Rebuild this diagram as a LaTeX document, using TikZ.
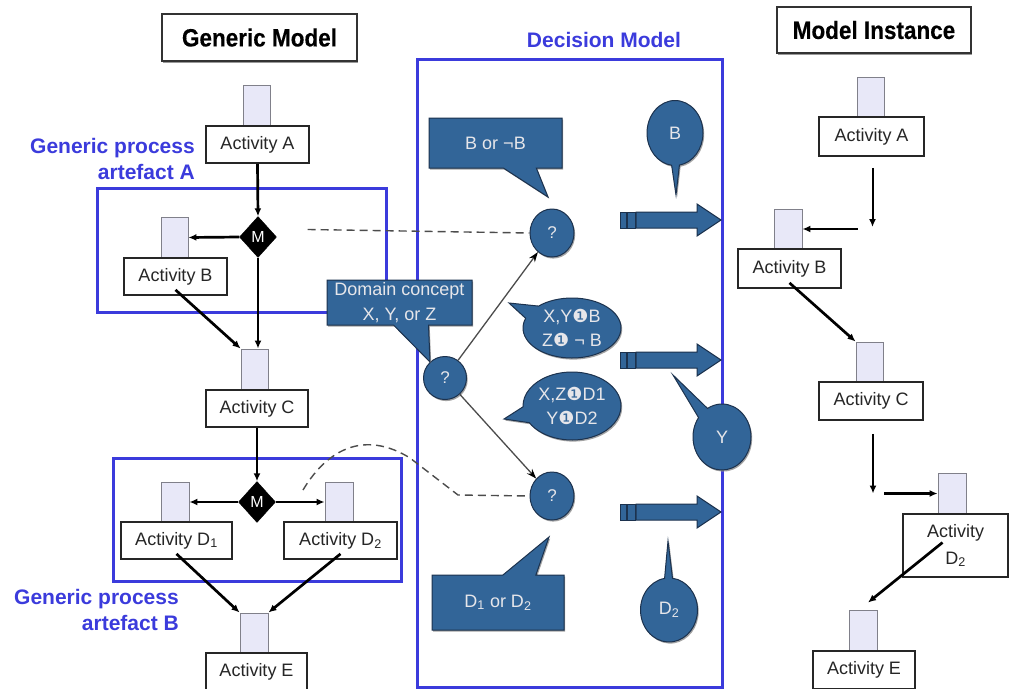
\documentclass[tikz,border=0pt]{standalone}
\usepackage{fontspec}
\setmainfont{Liberation Sans}
\newfontfamily\dingfont{DejaVu Sans}
\newfontfamily\headfont[FakeStretch=0.9,FakeBold=0.3]{Liberation Sans Bold}
\usetikzlibrary{shapes.geometric,shapes.callouts,arrows.meta,shadows}
\definecolor{bubblefill}{RGB}{50,101,152}
\definecolor{bubbleline}{RGB}{28,50,78}
\definecolor{bubbletext}{RGB}{230,230,234}
\definecolor{frameblue}{RGB}{59,59,220}
\definecolor{sqfill}{RGB}{232,232,248}
\definecolor{sqline}{RGB}{128,128,138}
\newcommand{\negone}{{\dingfont ❶}}
\tikzset{
  headbox/.style={draw=black!80, line width=1.6pt, fill=white, inner sep=0pt,
    font=\fontsize{25}{29}\headfont,
    drop shadow={shadow xshift=0.6pt, shadow yshift=-1.6pt, fill=black!50, opacity=0.8}},
  bluelabel/.style={text=frameblue, inner sep=0pt, align=right,
    font=\fontsize{21}{26}\selectfont\bfseries},
  regionframe/.style={draw=frameblue, line width=3pt, inner sep=0pt},
  actsq/.style={draw=sqline, line width=0.9pt, fill=sqfill, inner sep=0pt,
    minimum width=27pt, minimum height=41pt},
  actbox/.style={draw=black!85, line width=1.8pt, fill=white, inner sep=0pt,
    minimum height=37pt, text=black!85, font=\fontsize{18}{21}\selectfont},
  merge/.style={diamond, fill=black, draw=black, inner sep=0pt,
    minimum width=37pt, minimum height=41pt, text=white,
    font=\fontsize{16}{18}\selectfont},
  flow/.style={draw=black, line width=2.7pt, -{Latex[length=8pt,width=7pt]}},
  link/.style={draw=black!70, line width=1.4pt, dash pattern=on 8pt off 5pt},
  feed/.style={draw=black!70, line width=1.3pt, -{Stealth[length=10pt,width=7pt,color=black]}},
  blobshadow/.style={drop shadow={shadow xshift=1.2pt, shadow yshift=-1.6pt, fill=black!45, opacity=0.8}},
  query/.style={ellipse, fill=bubblefill, draw=bubbleline, line width=1pt, inner sep=0pt,
    minimum width=44pt, minimum height=48pt, text=bubbletext,
    font=\fontsize{17}{20}\selectfont, blobshadow},
  note/.style={rectangle callout, fill=bubblefill, draw=bubbleline, line width=1pt,
    inner sep=0pt, text=bubbletext, align=center,
    font=\fontsize{18}{25}\selectfont, blobshadow},
  say/.style={ellipse callout, fill=bubblefill, draw=bubbleline, line width=1pt,
    inner sep=0pt, text=bubbletext, align=center,
    font=\fontsize{18}{24}\selectfont, blobshadow},
  arrowbody/.style={fill=bubblefill, draw=bubbleline, line width=1pt},
  blockarrow/.pic={
    \filldraw[arrowbody] (0,-8) rectangle (6,8);
    \filldraw[arrowbody] (7,-8) rectangle (15,8);
    \filldraw[arrowbody] (16,-8) -- (77,-8) -- (77,-16) -- (101,0)
      -- (77,16) -- (77,8) -- (16,8) -- cycle;
  },
}
\begin{document}
\begin{tikzpicture}[x=1pt,y=-1pt]
\useasboundingbox[fill=white] (0,0) rectangle (1014,688);

% ---------- frames ----------
\node[regionframe, minimum width=289pt, minimum height=124pt] (artA) at (241.5,250) {};
\node[regionframe, minimum width=288pt, minimum height=123pt] (artB) at (257,519.5) {};
\node[regionframe, minimum width=305pt, minimum height=628pt] (dmod) at (569.5,373) {};

% ---------- headings ----------
\node[headbox, minimum width=195pt, minimum height=47pt] (hGM) at (259.5,37.5) {Generic Model};
\node[headbox, minimum width=194pt, minimum height=46pt] (hMI) at (874,30) {Model Instance};
\node[text=frameblue, inner sep=0pt, font=\fontsize{21}{26}\selectfont\bfseries] (hDM) at (604,40) {Decision Model};
\node[bluelabel, anchor=east] (lblA) at (195,158.5) {Generic process\\artefact A};
\node[bluelabel, anchor=east] (lblB) at (179,610) {Generic process\\artefact B};

% ---------- generic model ----------
\node[actsq] (gAsq) at (256.5,105.5) {};
\node[actbox, minimum width=103pt] (gA) at (257.5,144.5) {Activity A};
\node[merge] (dM1) at (258,237) {M};
\node[actsq] (gBsq) at (174.5,237.5) {};
\node[actbox, minimum width=103pt] (gB) at (175.5,276.5) {Activity B};
\node[actsq] (gCsq) at (254.5,369.5) {};
\node[actbox, minimum width=102pt] (gC) at (257,408.5) {Activity C};
\node[merge] (dM2) at (257,502) {M};
\node[actsq, minimum width=28pt, minimum height=40pt] (gD1sq) at (175,502) {};
\node[actbox, minimum width=111pt] (gD1) at (176.5,540.5) {Activity D\textsubscript{1}};
\node[actsq, minimum width=28pt, minimum height=40pt] (gD2sq) at (339,502) {};
\node[actbox, minimum width=113pt] (gD2) at (340.5,540.5) {Activity D\textsubscript{2}};
\node[actsq, minimum width=28pt, minimum height=40pt] (gEsq) at (254,633) {};
\node[actbox, minimum width=101pt] (gE) at (256.5,671.5) {Activity E};

\draw[flow] (gA.south) -- (dM1.north);
\draw[flow] (dM1.west) -- (gBsq.east);
\draw[flow] (dM1.south) -- (dM1.south |- gCsq.north);
\draw[flow] ([yshift=6pt]gB.south) -- (gCsq.north west);
\draw[flow] (gC.south) -- (dM2.north);
\draw[flow] (dM2.west) -- (gD1sq.east);
\draw[flow] (dM2.east) -- (gD2sq.west);
\draw[flow] ([yshift=6pt]gD1.south) -- (gEsq.north west);
\draw[flow] ([yshift=6pt]gD2.south) -- (gEsq.north east);

% ---------- decision model ----------
\node[query] (q1) at (552,233) {?};
\node[query, minimum width=43pt, minimum height=43pt] (q0) at (445,378) {?};
\node[query] (q2) at (552,496) {?};

\coordinate (tipBB) at (548,197);
\node[note, callout absolute pointer={(tipBB)}, callout pointer width=33pt,
  minimum width=133pt, minimum height=50pt] (cBB) at (495.5,143) {B or ¬B};
\coordinate (tipDom) at (430,362);
\node[note, callout absolute pointer={(tipDom)}, callout pointer width=35pt,
  minimum width=145pt, minimum height=45pt] (cDom) at (399.5,302.5) {Domain concept\\X, Y, or Z};
\coordinate (tipDD) at (549,537);
\node[note, callout absolute pointer={(tipDD)}, callout pointer width=33pt,
  minimum width=132pt, minimum height=55pt] (cDD) at (498,602.5) {D\textsubscript{1} or D\textsubscript{2}};

\coordinate (tipE1) at (509,303);
\node[say, callout absolute pointer={(tipE1)}, callout pointer arc=28,
  minimum width=98pt, minimum height=60pt] (e1) at (572,328) {X,Y\negone B\\Z\negone\ ¬ B};
\coordinate (tipE2) at (504,419);
\node[say, callout absolute pointer={(tipE2)}, callout pointer arc=28,
  minimum width=98pt, minimum height=68pt] (e2) at (572,406) {X,Z\negone D1\\Y\negone D2};

\pic at (620,220) {blockarrow};
\pic at (620,360) {blockarrow};
\pic at (620,512) {blockarrow};

\coordinate (tipOB) at (676,195);
\node[say, callout absolute pointer={(tipOB)}, callout pointer arc=16,
  minimum width=56pt, minimum height=65pt] (oB) at (675,133) {B};
\coordinate (tipOY) at (673,375);
\node[say, callout absolute pointer={(tipOY)}, callout pointer arc=24,
  minimum width=58pt, minimum height=66pt] (oY) at (722,437) {Y};
\coordinate (tipOD) at (668,541);
\node[say, callout absolute pointer={(tipOD)}, callout pointer arc=16,
  minimum width=57pt, minimum height=64pt] (oD) at (669,610) {D\textsubscript{2}};

\draw[feed] (q0) -- (q1);
\draw[feed] (q0) -- (q2);
\draw[link, shorten <=31pt] ([yshift=8pt]dM1.east) -- (q1.west);
\draw[link] ([shift={(46,-12)}]dM2.center) .. controls (330,445) and (368,432) .. (410,458)
  -- (458,495) -- (q2.west);

% ---------- model instance ----------
\node[actsq, minimum height=40pt] (iAsq) at (870.5,97) {};
\node[actbox, minimum width=105pt, minimum height=39pt] (iA) at (871.5,136.5) {Activity A};
\node[actsq, minimum width=28pt, minimum height=40pt] (iBsq) at (788,229) {};
\node[actbox, minimum width=103pt, minimum height=39pt] (iB) at (789.5,268.5) {Activity B};
\node[actsq, minimum height=40pt] (iCsq) at (869.5,362) {};
\node[actbox, minimum width=104pt, minimum height=38pt] (iC) at (871,401) {Activity C};
\node[actsq, minimum width=28pt, minimum height=41pt] (iD2sq) at (952,493.5) {};
\node[actbox, minimum width=105pt, minimum height=63pt, align=center,
  font=\fontsize{18}{27}\selectfont] (iD2) at (955.5,545.5) {Activity\\D\textsubscript{2}};
\node[actsq, minimum width=28pt, minimum height=41pt] (iEsq) at (863,630.5) {};
\node[actbox, minimum width=102pt, minimum height=38pt] (iE) at (864,670) {Activity E};

\coordinate (jAB) at ([xshift=1pt]iA.south |- iBsq.east);
\coordinate (jCD) at ([xshift=2pt]iC.south |- iD2sq.west);
\draw[flow, line width=2pt, shorten <=11pt, shorten >=2pt] ([xshift=1pt]iA.south) -- (jAB);
\draw[flow, shorten <=15pt] (jAB) -- (iBsq.east);
\draw[flow] ([yshift=6pt]iB.south) -- (iCsq.north west);
\draw[flow, line width=2pt, shorten <=13pt] ([xshift=2pt]iC.south) -- (jCD);
\draw[flow, shorten <=11pt] (jCD) -- (iD2sq.west);
\draw[flow] ([shift={(-13,-3)}]iD2.center) -- ([shift={(5,-7)}]iEsq.north);
\end{tikzpicture}
\end{document}
